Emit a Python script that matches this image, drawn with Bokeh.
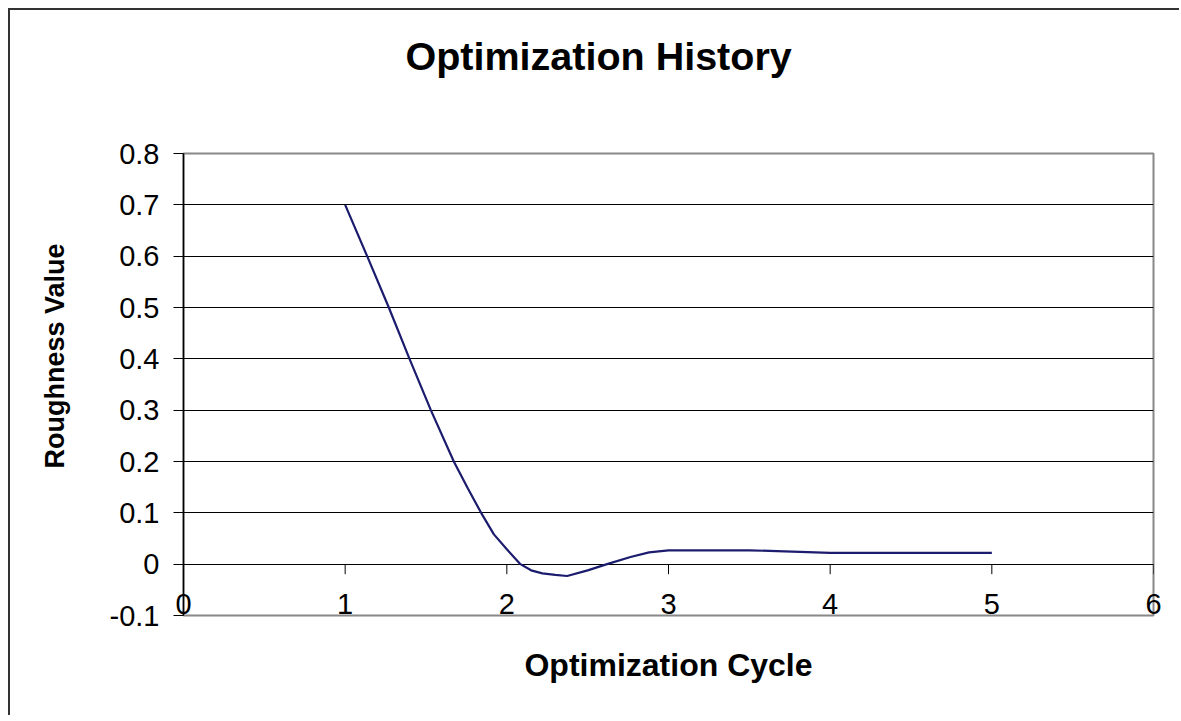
from bokeh.plotting import figure
from bokeh.models import FixedTicker, Range1d, Title
from bokeh.embed import file_html
from bokeh.resources import INLINE

# ---- data ----
cycle = [1.0, 1.136, 1.27, 1.398, 1.53, 1.672, 1.76, 1.841, 1.92, 2.0, 2.084,
         2.15, 2.22, 2.30, 2.373, 2.50, 2.62, 2.765, 2.88, 3.0, 3.5, 4.0, 5.0]
roughness = [0.7, 0.6, 0.5, 0.4, 0.3, 0.2, 0.147, 0.1, 0.058, 0.029, 0.0,
             -0.012, -0.018, -0.021, -0.023, -0.012, 0.0, 0.014, 0.023, 0.027,
             0.027, 0.022, 0.022]

x_ticks = [0, 1, 2, 3, 4, 5, 6]
x_tick_labels = ["0", "1", "2", "3", "4", "5", "6"]
y_ticks = [-0.1, 0.0, 0.1, 0.2, 0.3, 0.4, 0.5, 0.6, 0.7, 0.8]
y_tick_labels = ["-0.1", "0", "0.1", "0.2", "0.3", "0.4", "0.5", "0.6", "0.7", "0.8"]
grid_ticks = [0.0, 0.1, 0.2, 0.3, 0.4, 0.5, 0.6, 0.7]

TITLE = "Optimization History"
X_TITLE = "Optimization Cycle"
Y_TITLE = "Roughness Value"

FONT = "Liberation Sans"

p = figure(width=1171, height=707, output_backend="svg", toolbar_location=None,
           x_range=Range1d(0, 6), y_range=Range1d(-0.1, 0.8),
           min_border_left=173, min_border_right=28, min_border_top=143,
           min_border_bottom=102)
p.styles = {"margin-left": "8px", "margin-top": "8px",
            "border-left": "2px solid #333333", "border-top": "2px solid #333333"}

p.background_fill_color = "white"
p.border_fill_color = "white"
p.outline_line_color = "#888888"
p.outline_line_width = 2

# x axis: labels sit just above the bottom frame edge (Excel style)
p.xaxis.ticker = FixedTicker(ticks=x_ticks)
p.xaxis.major_label_overrides = {t: l for t, l in zip(x_ticks, x_tick_labels)}
p.xaxis.minor_tick_line_color = None
p.xaxis.major_tick_line_color = None
p.xaxis.major_tick_out = 0
p.xaxis.major_tick_in = 0
p.xaxis.axis_line_color = None
p.xaxis.major_label_text_font = FONT
p.xaxis.major_label_text_font_size = "29px"
p.xaxis.major_label_text_color = "black"
p.xaxis.major_label_standoff = -22
p.xaxis.axis_label = X_TITLE
p.xaxis.axis_label_text_font = FONT
p.xaxis.axis_label_text_font_size = "32px"
p.xaxis.axis_label_text_font_style = "bold"
p.xaxis.axis_label_text_color = "black"
p.xaxis.axis_label_standoff = 30

# y axis
p.yaxis.ticker = FixedTicker(ticks=y_ticks)
p.yaxis.major_label_overrides = {t: l for t, l in zip(y_ticks, y_tick_labels)}
p.yaxis.minor_tick_line_color = None
p.yaxis.major_tick_in = 0
p.yaxis.major_tick_out = 10
p.yaxis.major_tick_line_color = "black"
p.yaxis.axis_line_color = "black"
p.yaxis.axis_line_width = 1.5
p.yaxis.major_label_text_font = FONT
p.yaxis.major_label_text_font_size = "29px"
p.yaxis.major_label_text_color = "black"
p.yaxis.major_label_standoff = 14

# grid (horizontal only); y = 0 line acts as the category axis line
p.xgrid.grid_line_color = None
p.ygrid.ticker = FixedTicker(ticks=grid_ticks)
p.ygrid.grid_line_color = "black"
p.ygrid.grid_line_width = 1

# x tick marks hanging below the y = 0 line
px_per_y = (615.0 - 153.0) / 0.9
tick_len = 10.0 / px_per_y
p.segment(x0=x_ticks, y0=[0.0] * len(x_ticks), x1=x_ticks,
          y1=[-tick_len] * len(x_ticks), line_color="black", line_width=1)

p.line(cycle, roughness, line_color="#1c1c6e", line_width=2.2)

# chart title: spacer (nearest the frame) then the title text
p.add_layout(Title(text=" ", text_font_size="1px", standoff=73), "above")
p.add_layout(Title(text=TITLE, align="left", offset=222, standoff=0,
                   vertical_align="bottom", text_font=FONT,
                   text_font_size="39.5px", text_font_style="bold",
                   text_color="black"), "above")

# y axis title: spacer then rotated text
p.add_layout(Title(text=" ", text_font_size="1px", standoff=34), "left")
p.add_layout(Title(text=Y_TITLE, align="left", offset=147, standoff=0,
                   vertical_align="bottom", text_font=FONT,
                   text_font_size="27px", text_font_style="bold",
                   text_color="black"), "left")

open("out.html", "w").write(file_html(p, INLINE))
